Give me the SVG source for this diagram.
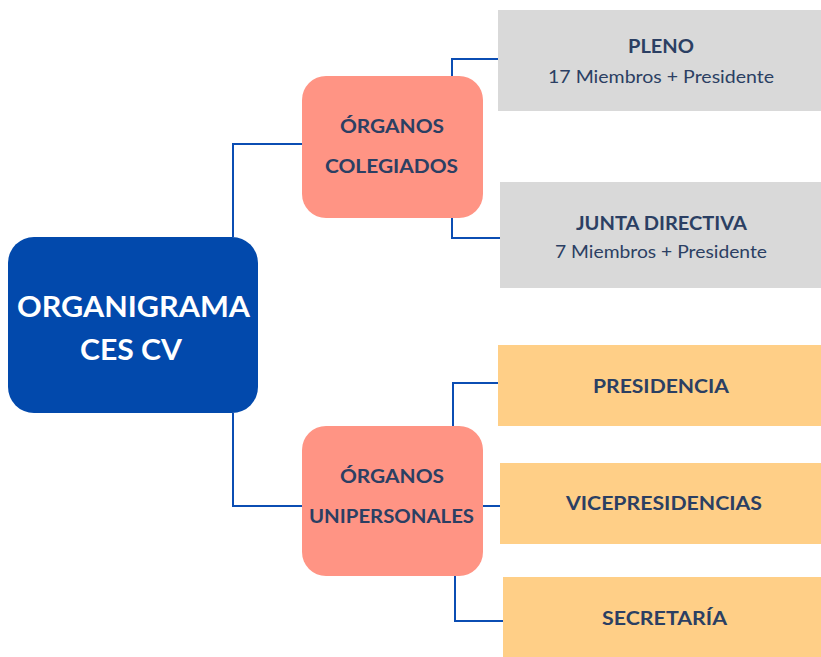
<svg xmlns="http://www.w3.org/2000/svg" width="821" height="657" viewBox="0 0 821 657">
<style>
.c{fill:none;stroke:#0B4DB3;stroke-width:2}
.t{font-family:Lato,"Liberation Sans",sans-serif;font-weight:bold;fill:#2B3F63;text-anchor:middle}
.s{font-family:Lato,"Liberation Sans",sans-serif;font-weight:normal;fill:#2B3F63;text-anchor:middle}
.w{font-family:Lato,"Liberation Sans",sans-serif;font-weight:bold;fill:#FFFFFF;text-anchor:middle}
.org{fill:#FF9484}
.gr{fill:#D9D9D9}
.ye{fill:#FFCF87}
</style>
<rect width="821" height="657" fill="#FFFFFF"/>
<g id="connectors">
<path class="c" d="M233,237 V144 H302"/>
<path class="c" d="M233,413 V506 H302"/>
<path class="c" d="M452,76 V59 H498"/>
<path class="c" d="M452,218 V238 H500"/>
<path class="c" d="M453,426 V383 H498"/>
<path class="c" d="M483,506 H500"/>
<path class="c" d="M455,576 V621 H503"/>
</g>
<g id="main">
<rect x="8" y="237" width="250" height="176" rx="26" fill="#0249AC"/>
<text class="w" x="133.5" y="317" font-size="28" textLength="233" lengthAdjust="spacingAndGlyphs">ORGANIGRAMA</text>
<text class="w" x="131" y="360" font-size="28" textLength="102" lengthAdjust="spacingAndGlyphs">CES CV</text>
</g>
<g id="colegiados">
<rect class="org" x="302" y="76" width="181" height="142" rx="24"/>
<text class="t" x="392" y="133" font-size="18.5" textLength="104" lengthAdjust="spacingAndGlyphs">ÓRGANOS</text>
<text class="t" x="391.5" y="173" font-size="18.5" textLength="133" lengthAdjust="spacingAndGlyphs">COLEGIADOS</text>
</g>
<g id="unipersonales">
<rect class="org" x="302" y="426" width="181" height="150" rx="24"/>
<text class="t" x="392" y="483" font-size="18.5" textLength="104" lengthAdjust="spacingAndGlyphs">ÓRGANOS</text>
<text class="t" x="391.5" y="523" font-size="18.5" textLength="165" lengthAdjust="spacingAndGlyphs">UNIPERSONALES</text>
</g>
<g id="pleno">
<rect class="gr" x="498" y="10" width="323" height="101"/>
<text class="t" x="661" y="53" font-size="18.5" textLength="66" lengthAdjust="spacingAndGlyphs">PLENO</text>
<text class="s" x="661" y="83" font-size="18" textLength="226" lengthAdjust="spacingAndGlyphs">17 Miembros + Presidente</text>
</g>
<g id="junta">
<rect class="gr" x="500" y="182" width="321" height="106"/>
<text class="t" x="661.5" y="230" font-size="18.5" textLength="171" lengthAdjust="spacingAndGlyphs">JUNTA DIRECTIVA</text>
<text class="s" x="661" y="258" font-size="18" textLength="212" lengthAdjust="spacingAndGlyphs">7 Miembros + Presidente</text>
</g>
<g id="presidencia">
<rect class="ye" x="498" y="345" width="323" height="81"/>
<text class="t" x="661" y="393" font-size="18.5" textLength="136" lengthAdjust="spacingAndGlyphs">PRESIDENCIA</text>
</g>
<g id="vicepresidencias">
<rect class="ye" x="500" y="463" width="321" height="81"/>
<text class="t" x="664" y="510" font-size="18.5" textLength="196" lengthAdjust="spacingAndGlyphs">VICEPRESIDENCIAS</text>
</g>
<g id="secretaria">
<rect class="ye" x="503" y="577" width="318" height="80"/>
<text class="t" x="664.5" y="625" font-size="18.5" textLength="125" lengthAdjust="spacingAndGlyphs">SECRETARÍA</text>
</g>
</svg>
